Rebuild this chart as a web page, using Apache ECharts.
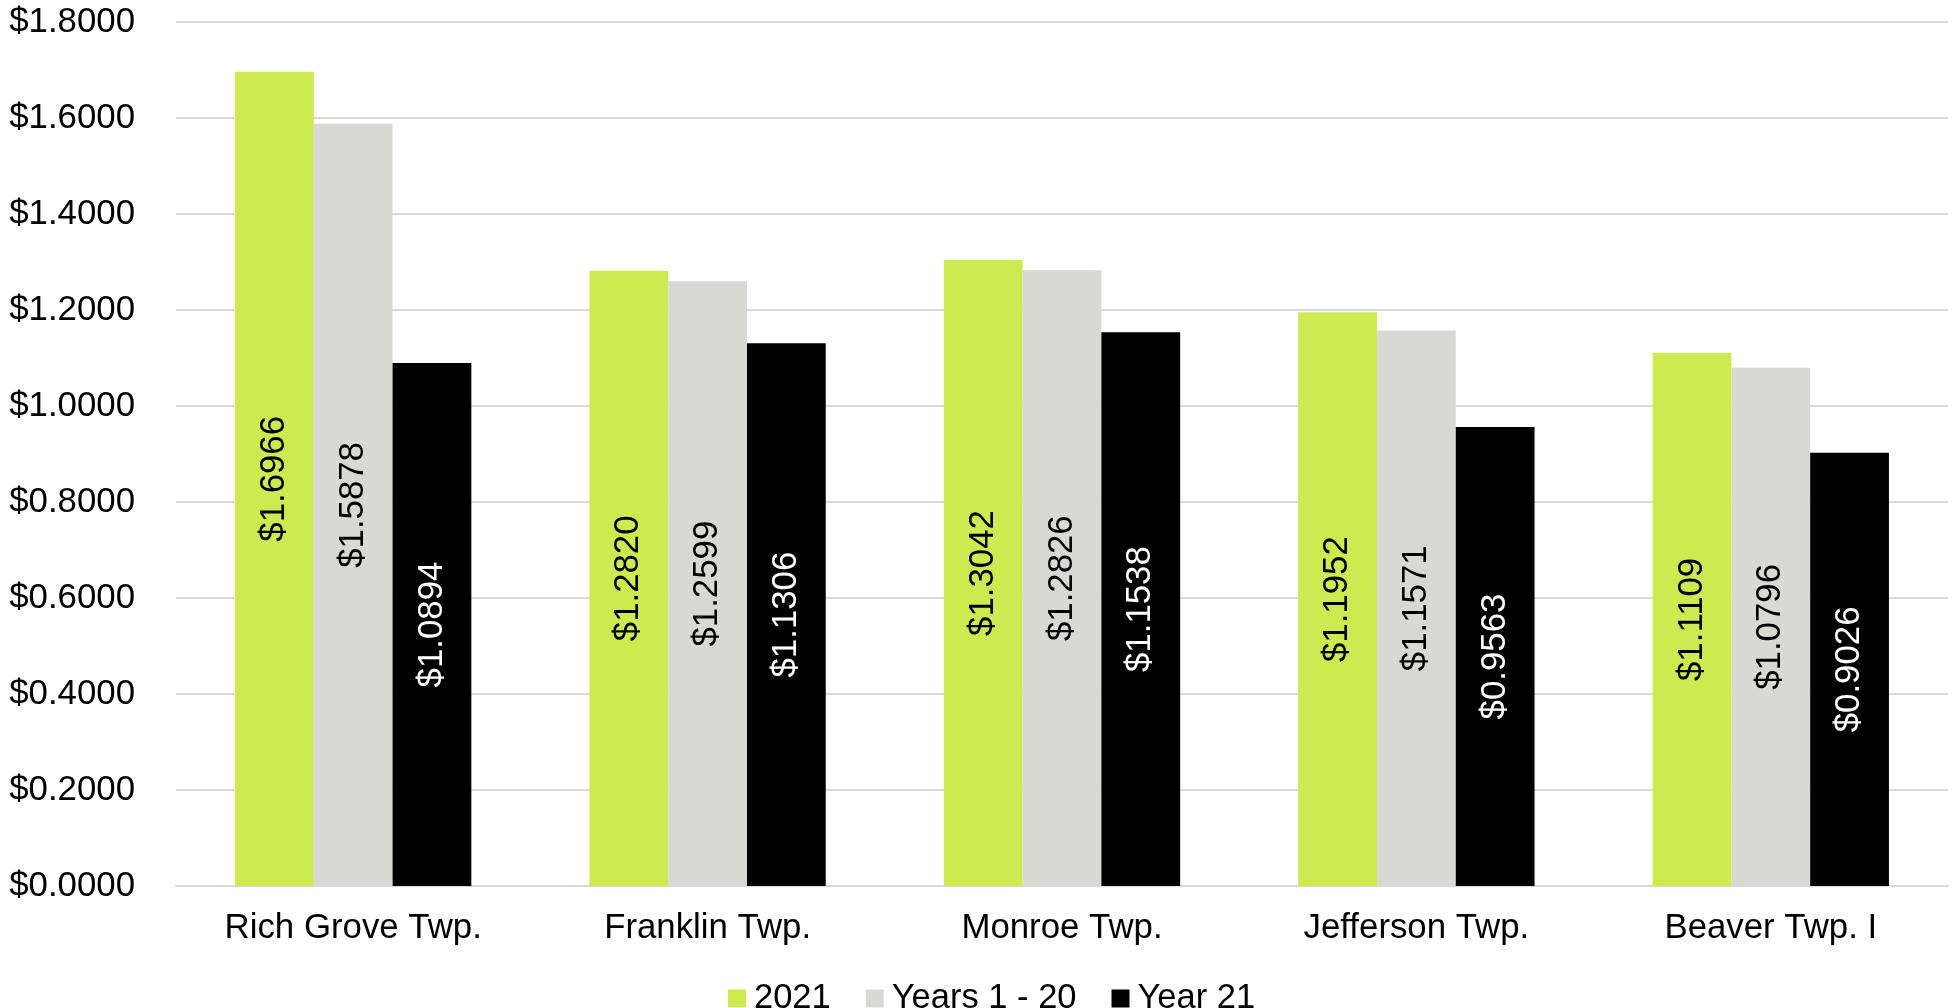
<!DOCTYPE html>
<html>
<head>
<meta charset="utf-8">
<script src="https://cdn.jsdelivr.net/npm/echarts@6/dist/echarts.min.js"></script>
<style>
html,body{margin:0;padding:0;background:#fff;}
#c{width:1955px;height:1008px;}
</style>
</head>
<body>
<div id="c"></div>
<script>
var categories = ['Rich Grove Twp.', 'Franklin Twp.', 'Monroe Twp.', 'Jefferson Twp.', 'Beaver Twp. I'];
var seriesNames = ['2021', 'Years 1 - 20', 'Year 21'];
var values2021 = [1.6966, 1.2820, 1.3042, 1.1952, 1.1109];
var valuesYears1to20 = [1.5878, 1.2599, 1.2826, 1.1571, 1.0796];
var valuesYear21 = [1.0894, 1.1306, 1.1538, 0.9563, 0.9026];

var FONT = '"Liberation Sans", Arial, sans-serif';
var FS = 34.8;
var colors = ['#CDEB51', '#D9D9D4', '#000000'];
var labelColors = ['#000000', '#000000', '#ffffff'];
var allValues = [values2021, valuesYears1to20, valuesYear21];

var chart = echarts.init(document.getElementById('c'), null, {renderer: 'canvas'});

var series = seriesNames.map(function (name, i) {
  return {
    name: name,
    type: 'bar',
    data: allValues[i],
    barGap: '0%',
    barCategoryGap: '33.33%',
    itemStyle: {color: colors[i]},
    label: {
      show: true,
      position: 'inside',
      rotate: 90,
      align: 'center',
      verticalAlign: 'middle',
      fontFamily: FONT,
      fontSize: FS,
      color: labelColors[i],
      formatter: function (p) { return '$' + p.value.toFixed(4); }
    }
  };
});

chart.setOption({
  animation: false,
  backgroundColor: '#ffffff',
  textStyle: {fontFamily: FONT},
  grid: {left: 176, right: 7, top: 22, bottom: 122, containLabel: false},
  legend: {
    data: seriesNames,
    left: 723,
    top: 976,
    itemWidth: 18,
    itemHeight: 18,
    itemGap: 35,
    icon: 'rect',
    textStyle: {fontFamily: FONT, fontSize: 34.5, color: '#000', padding: [0, 0, 0, 3]}
  },
  xAxis: {
    type: 'category',
    data: categories,
    axisLine: {show: true, lineStyle: {color: '#D9D9D9', width: 2}},
    axisTick: {show: false},
    axisLabel: {fontFamily: FONT, fontSize: FS, color: '#000', margin: 25}
  },
  yAxis: {
    type: 'value',
    min: 0,
    max: 1.8,
    interval: 0.2,
    axisLine: {show: false},
    axisTick: {show: false},
    splitLine: {show: true, lineStyle: {color: '#D9D9D9', width: 2}},
    axisLabel: {
      fontFamily: FONT, fontSize: FS, color: '#000', margin: 41,
      formatter: function (v) { return '$' + v.toFixed(4); }
    }
  },
  series: series
});
</script>
</body>
</html>
